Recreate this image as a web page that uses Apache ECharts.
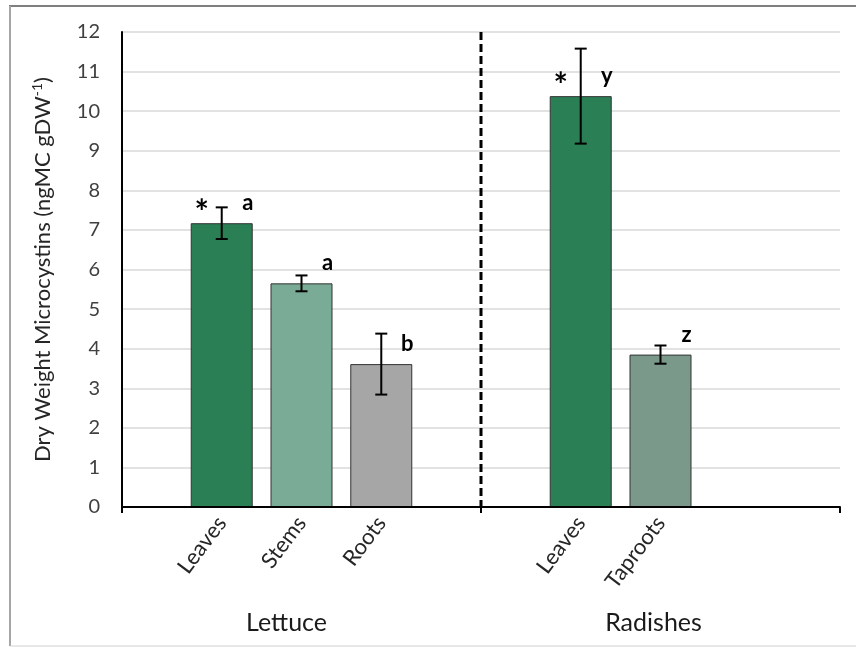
<!DOCTYPE html>
<html>
<head>
<meta charset="utf-8">
<script src="https://cdn.jsdelivr.net/npm/echarts@6/dist/echarts.min.js"></script>
<style>
html,body{margin:0;padding:0;background:#fff;}
#chart{width:856px;height:647px;}
</style>
</head>
<body>
<div id="chart"></div>
<script>
// ---- data ----
const groups = ['Lettuce', 'Radishes'];
const lettuceParts = ['Leaves', 'Stems', 'Roots'];
const lettuceMeans = [7.17, 5.65, 3.61];
const lettuceErrors = [0.40, 0.20, 0.77];
const lettuceLetters = ['a', 'a', 'b'];
const lettuceStars = ['*', '', ''];
const radishParts = ['Leaves', 'Taproots'];
const radishMeans = [10.38, 3.85];
const radishErrors = [1.20, 0.23];
const radishLetters = ['y', 'z'];
const radishStars = ['*', ''];
const yMin = 0, yMax = 12, yStep = 1;
const yTitle = 'Dry Weight Microcystins (ngMC gDW';
const yTitleSup = '-1';

// ---- styles ----
const lettuceColors = ['#2b7f55', '#7aab96', '#a6a6a6'];
const radishColors = ['#2b7f55', '#7a998b'];

// ---- layout: each group occupies 9 half-slots ----
const SLOTS_PER_GROUP = 9, FIRST_OFFSET = 2, STEP = 2;
const parts = [lettuceParts, radishParts];
const means = [lettuceMeans, radishMeans];
const errs = [lettuceErrors, radishErrors];
const letters = [lettuceLetters, radishLetters];
const stars = [lettuceStars, radishStars];
const colors = [lettuceColors, radishColors];

const nSlots = SLOTS_PER_GROUP * groups.length;
const categories = new Array(nSlots).fill('');
const barData = new Array(nSlots).fill('-');
const annotations = [];
groups.forEach((g, gi) => {
  parts[gi].forEach((p, i) => {
    const s = gi * SLOTS_PER_GROUP + FIRST_OFFSET + STEP * i;
    categories[s] = p;
    barData[s] = { value: means[gi][i], itemStyle: { color: colors[gi][i] } };
    annotations.push({ slot: s, mean: means[gi][i], err: errs[gi][i], star: stars[gi][i], letter: letters[gi][i] });
  });
});

const FONT = 'Lato';
const chart = echarts.init(document.getElementById('chart'), null, { renderer: 'canvas' });

const option = {
  animation: false,
  backgroundColor: '#ffffff',
  textStyle: { fontFamily: FONT },
  grid: { left: 122, top: 32, right: 16, bottom: 140, containLabel: false },
  xAxis: [
    {
      type: 'category',
      data: categories,
      position: 'bottom',
      boundaryGap: true,
      axisLine: { show: true, lineStyle: { color: '#000', width: 2 } },
      axisTick: { show: false },
      axisLabel: { interval: 0, rotate: 53, margin: 12, fontSize: 22, color: '#262626', fontFamily: FONT },
      splitLine: { show: false },
      z: 10
    },
    {
      type: 'category',
      data: groups,
      position: 'bottom',
      boundaryGap: true,
      axisLine: { show: false },
      axisTick: { show: true, length: 6, lineStyle: { color: '#000', width: 2 } },
      axisLabel: {
        interval: 0, margin: 103, fontSize: 25, color: '#1a1a1a', fontFamily: FONT,
        formatter: function (v, idx) { return '{g' + idx + '|' + v + '}'; },
        rich: {
          g0: { fontSize: 25, fontFamily: FONT, color: '#1a1a1a', padding: [0, 30, 0, 0] },
          g1: { fontSize: 25, fontFamily: FONT, color: '#1a1a1a', padding: [0, 14, 0, 0] }
        }
      },
      splitLine: { show: false },
      z: 10
    }
  ],
  yAxis: {
    type: 'value',
    min: yMin, max: yMax, interval: yStep,
    axisLine: { show: true, lineStyle: { color: '#000', width: 2 } },
    axisTick: { show: false },
    axisLabel: { fontSize: 20, color: '#404040', margin: 22, fontFamily: FONT },
    splitLine: { show: true, lineStyle: { color: '#d9d9d9', width: 1.5 } },
    name: '{t|' + yTitle + '}{s|' + yTitleSup + '}{t|)}',
    nameLocation: 'middle',
    nameGap: 66,
    nameTextStyle: {
      rich: {
        t: { fontSize: 22, fontFamily: FONT, color: '#262626', lineHeight: 26 },
        s: { fontSize: 14, fontFamily: FONT, color: '#262626', lineHeight: 26, verticalAlign: 'top', padding: [0, 0, 9, 0] }
      }
    },
    z: 0
  },
  series: [
    {
      type: 'bar',
      xAxisIndex: 0,
      data: barData,
      barWidth: 62,
      itemStyle: { borderColor: '#333333', borderWidth: 1 },
      z: 2
    },
    {
      type: 'custom',
      xAxisIndex: 0,
      data: annotations.map(a => [a.slot, a.mean, a.err]),
      encode: { x: 0, y: 1 },
      z: 5,
      renderItem: function (params, api) {
        const a = annotations[params.dataIndex];
        const x = api.value(0), m = api.value(1), e = api.value(2);
        const t = api.coord([x, m + e]);
        const b = api.coord([x, m - e]);
        const top = api.coord([x, m]);
        const cap = 6;
        const st = { stroke: '#000', lineWidth: 2 };
        const children = [
          { type: 'line', shape: { x1: t[0], y1: t[1], x2: b[0], y2: b[1] }, style: st },
          { type: 'line', shape: { x1: t[0] - cap, y1: t[1], x2: t[0] + cap, y2: t[1] }, style: st },
          { type: 'line', shape: { x1: b[0] - cap, y1: b[1], x2: b[0] + cap, y2: b[1] }, style: st },
          { type: 'text', style: { text: a.letter, x: top[0] + 26, y: top[1] - 20, align: 'center', verticalAlign: 'middle', font: 'bold 22px ' + FONT, fill: '#000' } }
        ];
        if (a.star) {
          children.push({ type: 'text', style: { text: a.star, x: top[0] - 20, y: top[1] - 10, align: 'center', verticalAlign: 'middle', font: 'bold 34px ' + FONT, fill: '#000' } });
        }
        return { type: 'group', children: children };
      }
    },
    {
      type: 'custom',
      xAxisIndex: 0,
      data: [[SLOTS_PER_GROUP - 1, yMax]],
      encode: { x: 0, y: 1 },
      z: 6,
      renderItem: function (params, api) {
        const s = api.value(0);
        const a = api.coord([s, yMax]);
        const b = api.coord([s + 1, yMin]);
        const x = (a[0] + b[0]) / 2;
        return {
          type: 'line',
          shape: { x1: x, y1: a[1], x2: x, y2: b[1] },
          style: { stroke: '#000', lineWidth: 3, lineDash: [8, 4] }
        };
      }
    }
  ],
  graphic: [
    { type: 'line', shape: { x1: 9, y1: 6, x2: 856, y2: 6 }, style: { stroke: '#7f7f7f', lineWidth: 2 } },
    { type: 'line', shape: { x1: 10, y1: 6, x2: 10, y2: 646 }, style: { stroke: '#a6a6a6', lineWidth: 2 } },
    { type: 'line', shape: { x1: 10, y1: 646, x2: 856, y2: 646 }, style: { stroke: '#d0d0d0', lineWidth: 1 } }
  ]
};
chart.setOption(option);
</script>
</body>
</html>
